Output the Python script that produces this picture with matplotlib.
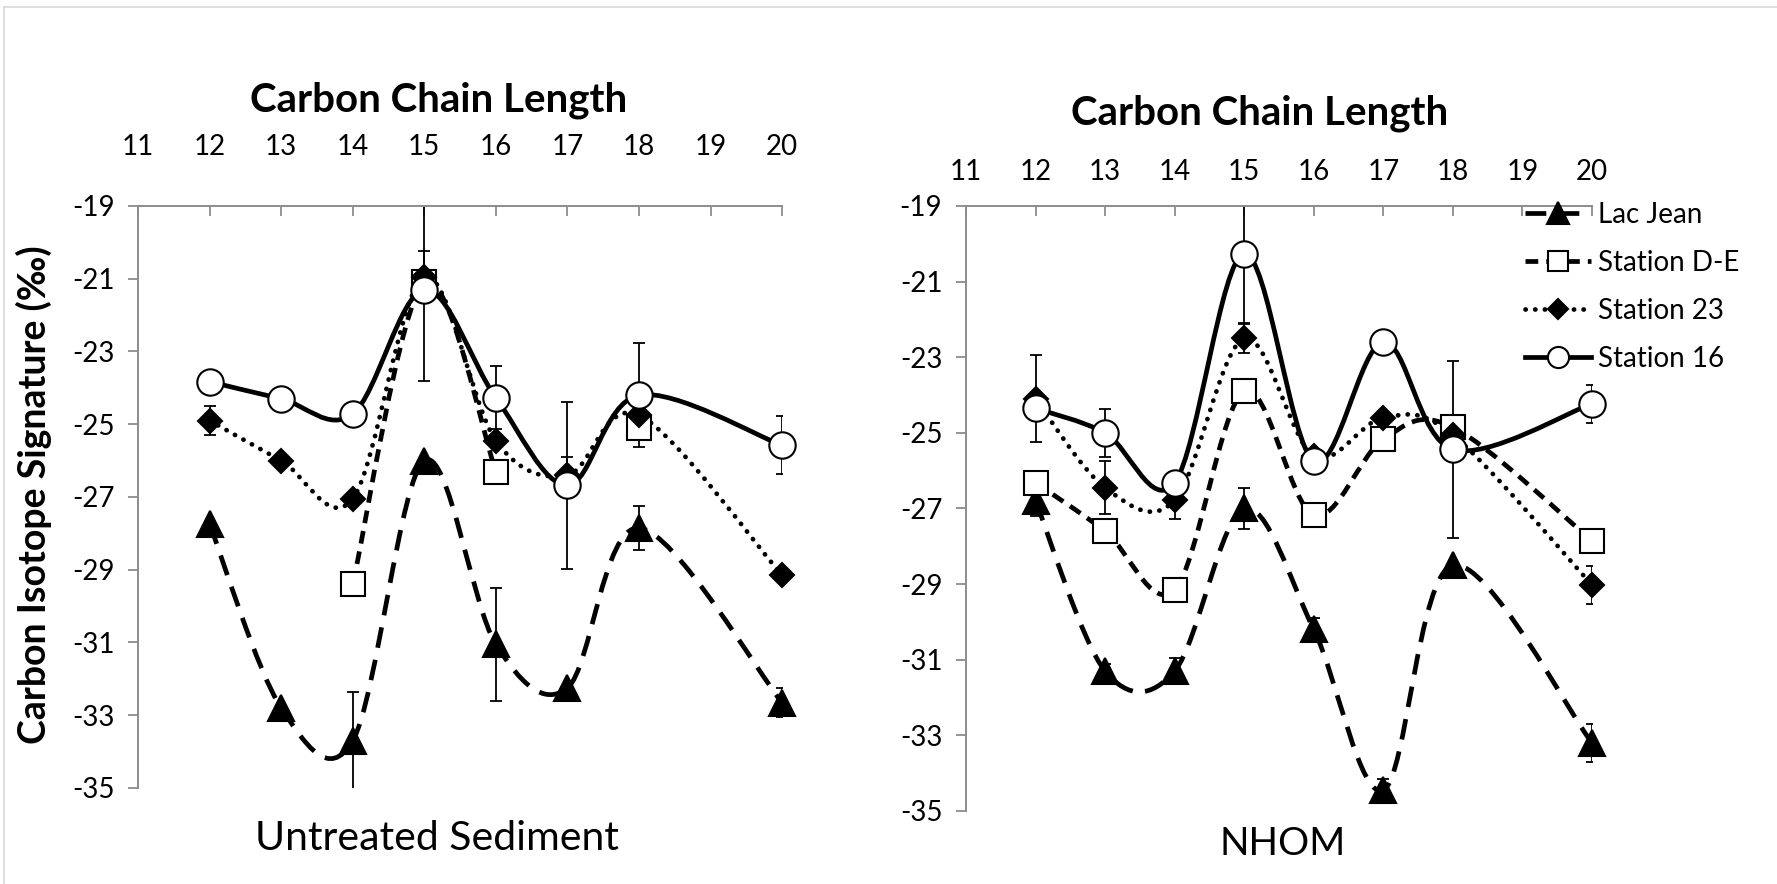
import matplotlib
matplotlib.use('Agg')
import matplotlib.pyplot as plt
from matplotlib.path import Path
from matplotlib.patches import PathPatch
from matplotlib.lines import Line2D
import numpy as np

plt.rcParams['font.family'] = ['Lato', 'DejaVu Sans']
plt.rcParams['axes.unicode_minus'] = False

chain = [12, 13, 14, 15, 16, 17, 18, 20]
xticks = list(range(11, 21))
yticks = list(range(-35, -18, 2))
series_names = ['Lac Jean', 'Station D-E', 'Station 23', 'Station 16']
nan = np.nan

# Untreated sediment
sed_lac = [-27.75, -32.8, -33.7, -26.0, -31.05, -32.25, -27.85, -32.65]
sed_de = [nan, nan, -29.4, -21.1, -26.3, nan, -25.1, nan]
sed_23 = [-24.9, -26.0, -27.05, -20.95, -25.45, -26.4, -24.75, -29.15]
sed_16 = [-23.83, -24.3, -24.72, -21.3, -24.27, -26.68, -24.2, -25.58]
sed_lac_err = [nan, nan, 1.35, nan, 1.55, nan, 0.6, 0.4]
sed_de_err = [nan, nan, nan, nan, nan, nan, nan, nan]
sed_23_err = [0.4, nan, nan, 0.7, nan, 0.5, nan, nan]
sed_16_err = [nan, nan, nan, 2.5, 0.87, 2.3, 1.42, 0.8]

# NHOM
nh_lac = [-26.8, -31.3, -31.3, -27.0, -30.2, -34.45, -28.5, -33.2]
nh_de = [-26.32, -27.6, -29.15, -23.9, -27.18, -25.17, -24.85, -27.85]
nh_23 = [-24.1, -26.45, -26.78, -22.5, -25.6, -24.6, -25.06, -29.02]
nh_16 = [-24.35, -25.0, -26.32, -20.26, -25.75, -22.6, -25.44, -24.23]
nh_lac_err = [0.4, 0.2, 0.35, 0.55, 0.3, 0.3, nan, 0.5]
nh_de_err = [nan, nan, nan, nan, nan, nan, nan, nan]
nh_23_err = [1.15, 0.7, 0.5, 0.4, nan, nan, nan, 0.5]
nh_16_err = [nan, 0.63, nan, 1.85, nan, nan, 2.35, 0.5]

LW = 3.4
styles = [
    dict(ls=(0, (4.4, 2.6)), cap='butt', marker='^', ms=19, mfc='k'),
    dict(ls=(0, (2.7, 1.7)), cap='butt', marker='s', ms=17.5, mfc='w'),
    dict(ls=(0, (0.05, 2.0)), cap='round', marker='D', ms=12.5, mfc='k'),
    dict(ls='-', cap='round', marker='o', ms=19, mfc='w'),
]


def smooth_path(x, y):
    # excel-like smoothed line: catmull-rom as cubic bezier, broken at gaps
    x = np.asarray(x, float)
    y = np.asarray(y, float)
    ok = np.isfinite(y)
    verts, codes = [], []
    runs, cur = [], []
    for i in range(len(x)):
        if ok[i]:
            cur.append(i)
        else:
            if cur:
                runs.append(cur)
            cur = []
    if cur:
        runs.append(cur)
    for r in runs:
        if len(r) < 2:
            continue
        p = np.column_stack([x[r], y[r]])
        n = len(p)
        verts.append(p[0]); codes.append(Path.MOVETO)
        for k in range(n - 1):
            p0 = p[k - 1] if k > 0 else p[k]
            p1 = p[k]
            p2 = p[k + 1]
            p3 = p[k + 2] if k + 2 < n else p[k + 1]
            c1 = p1 + (p2 - p0) / 6.0
            c2 = p2 - (p3 - p1) / 6.0
            verts += [c1, c2, p2]
            codes += [Path.CURVE4] * 3
    if not verts:
        return None
    return Path(verts, codes)


def draw_panel(ax, data, errs, top_pad):
    for vals, err, st in zip(data, errs, styles):
        path = smooth_path(chain, vals)
        if path is not None:
            patch = PathPatch(path, fill=False, edgecolor='k', lw=LW,
                              linestyle=st['ls'], capstyle=st['cap'],
                              transform=ax.transData, zorder=2)
            ax.add_patch(patch)
        v = np.array(vals, float)
        e = np.array(err, float)
        m = np.isfinite(e) & np.isfinite(v)
        if m.any():
            ax.errorbar(np.array(chain)[m], v[m], yerr=e[m], fmt='none',
                        ecolor='k', elinewidth=1.3, capsize=4.5,
                        capthick=1.3, zorder=2.5)
        ax.plot(chain, vals, ls='none', marker=st['marker'], ms=st['ms'],
                mfc=st['mfc'], mec='k', mew=1.5, clip_on=False, zorder=3)

    ax.set_xlim(11, 20)
    ax.set_ylim(-35, -19)
    ax.set_xticks(xticks)
    ax.set_yticks(yticks)
    ax.xaxis.tick_top()
    for sp in ('right', 'bottom'):
        ax.spines[sp].set_visible(False)
    for sp in ('left', 'top'):
        ax.spines[sp].set_color('#8c8c8c')
        ax.spines[sp].set_linewidth(1.4)
    ax.tick_params(axis='x', direction='in', length=7, width=1.3,
                   color='#8c8c8c', labelsize=20, pad=top_pad)
    ax.tick_params(axis='y', direction='out', length=7, width=1.3,
                   color='#8c8c8c', labelsize=20, pad=10)
    ax.set_facecolor('none')


fig = plt.figure(figsize=(17.77, 8.84), dpi=100)
ax1 = fig.add_axes([0.0777, 0.1086, 0.3624, 0.6584])
ax2 = fig.add_axes([0.5436, 0.0826, 0.3523, 0.6844])

draw_panel(ax1, [sed_lac, sed_de, sed_23, sed_16],
           [sed_lac_err, sed_de_err, sed_23_err, sed_16_err], 33)
draw_panel(ax2, [nh_lac, nh_de, nh_23, nh_16],
           [nh_lac_err, nh_de_err, nh_23_err, nh_16_err], 15)

fig.text(0.247, 0.887, 'Carbon Chain Length', fontsize=29, fontweight='bold',
         ha='center', va='center')
fig.text(0.709, 0.872, 'Carbon Chain Length', fontsize=29, fontweight='bold',
         ha='center', va='center')
fig.text(0.246, 0.051, 'Untreated Sediment', fontsize=29.5,
         ha='center', va='center')
fig.text(0.722, 0.045, 'NHOM', fontsize=28, ha='center', va='center')
fig.text(0.019, 0.44, 'Carbon Isotope Signature (‰)', fontsize=27,
         fontweight='bold', rotation=90, ha='center', va='center')

handles = []
for st in styles:
    handles.append(Line2D([], [], color='k', lw=LW, ls=st['ls'],
                          dash_capstyle=st['cap'], marker=st['marker'],
                          ms=st['ms'] * 0.8, mfc=st['mfc'], mec='k', mew=1.5))
fig.legend(handles, series_names, loc='upper left',
           bbox_to_anchor=(0.858, 0.772), bbox_transform=fig.transFigure,
           frameon=False, fontsize=20, handlelength=2.4, handletextpad=0.25,
           labelspacing=0.8, borderpad=0, borderaxespad=0)

# thin outer chart border
fig.add_artist(Line2D([0.0025, 0.0025], [0.0, 0.992], color='#d9d9d9', lw=1.2,
                      transform=fig.transFigure))
fig.add_artist(Line2D([0.0025, 1.0], [0.992, 0.992], color='#d9d9d9', lw=1.2,
                      transform=fig.transFigure))

fig.savefig('out.png', dpi=100, facecolor='white')
